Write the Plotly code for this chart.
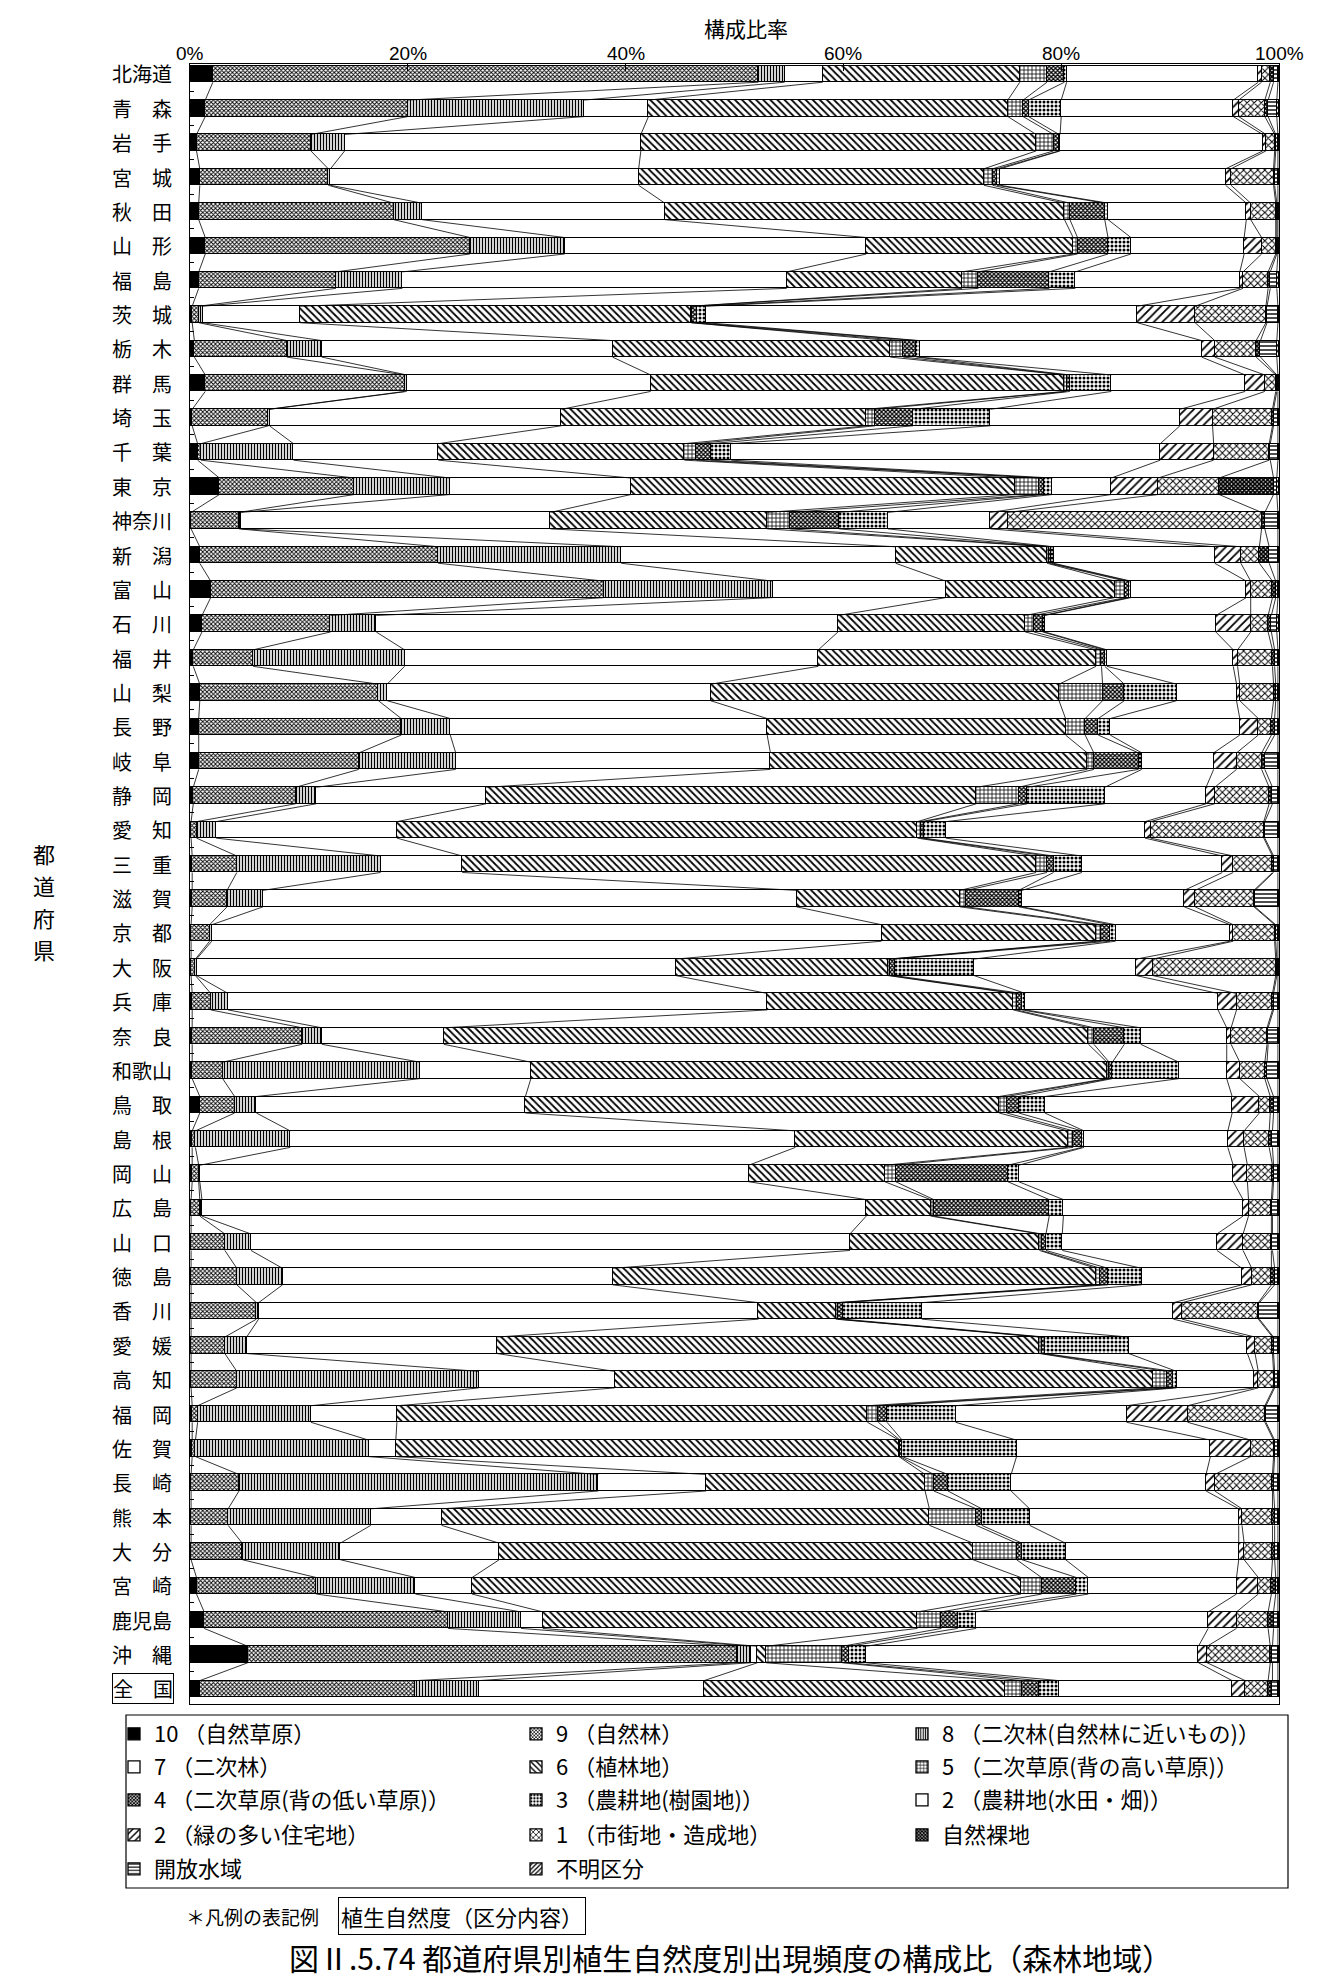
import plotly.graph_objects as go
import numpy as np

prefectures = ["北海道", "青森", "岩手", "宮城", "秋田", "山形", "福島", "茨城", "栃木", "群馬",
               "埼玉", "千葉", "東京", "神奈川", "新潟", "富山", "石川", "福井", "山梨", "長野",
               "岐阜", "静岡", "愛知", "三重", "滋賀", "京都", "大阪", "兵庫", "奈良", "和歌山",
               "鳥取", "島根", "岡山", "広島", "山口", "徳島", "香川", "愛媛", "高知", "福岡",
               "佐賀", "長崎", "熊本", "大分", "宮崎", "鹿児島", "沖縄", "全国"]

series_names = ["10 （自然草原）", "9 （自然林）", "8 （二次林(自然林に近いもの)）",
                "7 （二次林）", "6 （植林地）", "5 （二次草原(背の高い草原)）",
                "4 （二次草原(背の低い草原)）", "3 （農耕地(樹園地)）", "2 （農耕地(水田・畑)）",
                "2 （緑の多い住宅地）", "1 （市街地・造成地）", "自然裸地", "開放水域", "不明区分"]

nat10 = [2.1, 1.4, 0.6, 0.9, 0.8, 1.4, 0.8, 0.2, 0.4, 1.4, 0.2, 0.7, 2.7, 0.1, 0.9, 1.9, 1.1, 0.3, 0.9, 0.8,
         0.8, 0.3, 0.1, 0.2, 0.2, 0.1, 0.1, 0.2, 0.2, 0.2, 0.9, 0.2, 0.2, 0.1, 0.1, 0.1, 0.1, 0.1, 0.1, 0.2,
         0.2, 0.1, 0.1, 0.1, 0.6, 1.3, 5.3, 0.9]
nat9 = [50.1, 18.6, 10.5, 11.8, 17.9, 24.3, 12.6, 0.6, 8.5, 18.3, 7.0, 0.3, 12.4, 4.4, 21.9, 36.1, 11.8, 5.5, 16.4, 18.6,
        14.7, 9.4, 0.5, 4.1, 3.2, 1.7, 0.4, 1.7, 10.1, 2.8, 3.2, 0.3, 0.6, 0.8, 3.1, 4.2, 6.0, 3.1, 4.2, 0.5,
        0.3, 4.4, 3.4, 4.7, 11.0, 22.4, 44.9, 19.8]
nat8 = [2.4, 16.2, 3.1, 0.2, 2.6, 8.7, 6.1, 0.4, 3.2, 0.2, 0.1, 8.5, 8.8, 0.2, 16.8, 15.5, 4.2, 13.9, 0.8, 4.5,
        8.9, 1.9, 1.8, 13.2, 3.3, 0.2, 0.1, 1.6, 1.8, 18.1, 2.0, 8.7, 0.1, 0.2, 2.4, 4.2, 0.2, 2.0, 22.2, 10.4,
        15.9, 33.0, 13.1, 9.0, 9.1, 6.7, 1.3, 5.8]
nat7 = [3.5, 5.9, 27.2, 28.3, 22.3, 27.7, 35.3, 8.9, 26.7, 22.4, 26.8, 13.3, 16.6, 28.4, 25.2, 15.9, 42.4, 38.0, 29.7, 29.1,
        28.9, 15.6, 16.6, 7.5, 49.0, 61.5, 44.0, 49.5, 11.2, 10.2, 24.7, 46.4, 50.4, 61.0, 55.0, 30.3, 45.9, 23.0, 12.5, 7.9,
        2.5, 9.9, 6.5, 14.6, 5.2, 2.0, 0.6, 20.7]
nat6 = [18.1, 33.0, 36.3, 31.7, 36.7, 19.0, 16.1, 35.9, 25.5, 38.0, 28.0, 22.6, 35.3, 19.9, 13.9, 15.5, 17.2, 25.5, 32.0, 27.4,
        29.1, 45.0, 47.8, 52.7, 15.0, 19.7, 19.5, 22.6, 59.2, 52.9, 43.5, 25.0, 12.5, 5.9, 17.4, 44.4, 7.1, 49.8, 49.4, 43.2,
        46.2, 20.1, 44.8, 43.5, 50.4, 34.4, 0.8, 27.6]
nat5 = [2.5, 1.4, 1.6, 0.8, 0.5, 0.4, 1.5, 0.1, 1.2, 0.2, 0.8, 1.1, 2.2, 2.1, 0.2, 1.0, 0.8, 0.5, 4.0, 1.8,
        0.6, 3.9, 0.3, 1.0, 0.6, 0.5, 0.2, 0.3, 0.5, 0.2, 0.7, 0.5, 1.0, 0.3, 0.2, 0.4, 0.2, 0.2, 1.3, 1.0,
        0.1, 0.8, 4.3, 4.0, 1.9, 2.2, 7.0, 1.6]
nat4 = [1.6, 0.5, 0.5, 0.4, 3.2, 2.8, 6.5, 0.5, 1.2, 0.3, 3.5, 1.3, 0.4, 4.5, 0.2, 0.3, 0.8, 0.3, 2.0, 1.2,
        4.1, 0.8, 0.3, 0.6, 4.8, 0.8, 0.4, 0.5, 2.8, 0.3, 1.1, 0.8, 10.3, 10.6, 0.4, 0.7, 0.5, 0.3, 0.6, 0.8,
        0.2, 1.3, 0.5, 0.5, 3.2, 1.5, 0.6, 1.6]
nat3 = [0.2, 3.0, 0.1, 0.3, 0.3, 2.1, 2.4, 0.8, 0.3, 3.8, 7.1, 1.9, 0.8, 4.5, 0.2, 0.2, 0.2, 0.2, 4.8, 1.1,
        0.3, 7.1, 2.0, 2.6, 0.3, 0.5, 7.3, 0.3, 1.5, 6.1, 2.4, 0.2, 1.0, 1.3, 1.5, 3.1, 7.2, 7.7, 0.3, 6.3,
        10.5, 5.8, 4.4, 4.0, 1.1, 1.7, 1.6, 1.8]
nat2_field = [17.6, 15.8, 18.6, 20.7, 12.7, 10.4, 15.1, 39.6, 25.9, 12.3, 17.4, 39.4, 5.4, 9.4, 14.8, 10.6, 15.7, 11.6, 5.5, 11.9,
              6.6, 9.3, 18.3, 12.9, 14.9, 10.5, 14.9, 17.7, 7.9, 4.4, 17.2, 13.2, 19.7, 16.5, 14.2, 9.2, 23.1, 10.9, 7.1, 15.7,
              17.8, 17.9, 19.2, 15.9, 13.6, 21.3, 30.5, 15.9]
nat2_resid = [0.3, 0.5, 0.3, 0.5, 0.4, 1.6, 0.3, 5.3, 1.2, 1.8, 3.0, 4.9, 4.3, 1.6, 2.4, 0.4, 3.2, 0.4, 0.3, 1.7,
              2.1, 0.8, 0.5, 1.0, 1.0, 0.3, 1.5, 1.7, 0.4, 1.2, 2.5, 1.5, 1.3, 0.5, 2.4, 0.9, 0.8, 0.7, 0.4, 5.6,
              3.7, 0.8, 0.3, 0.5, 2.0, 2.6, 0.8, 1.2]
nat1 = [0.8, 2.4, 0.8, 3.9, 2.3, 1.3, 2.3, 6.5, 3.8, 1.0, 5.5, 5.1, 5.6, 23.3, 1.7, 2.0, 1.6, 3.2, 3.1, 1.2,
        2.3, 5.0, 10.4, 3.6, 5.4, 3.8, 11.3, 3.3, 3.3, 2.3, 1.0, 2.3, 2.3, 2.1, 2.6, 1.8, 7.0, 1.6, 1.4, 7.1,
        2.1, 5.3, 2.8, 2.6, 1.2, 2.9, 5.8, 2.1]
bare = [0.3, 0.3, 0.1, 0.1, 0.1, 0.1, 0.2, 0.1, 0.4, 0.1, 0.1, 0.1, 5.0, 0.3, 0.9, 0.3, 0.3, 0.2, 0.2, 0.3,
        0.3, 0.3, 0.1, 0.1, 0.1, 0.1, 0.1, 0.1, 0.1, 0.2, 0.3, 0.3, 0.1, 0.1, 0.1, 0.3, 0.1, 0.1, 0.1, 0.1,
        0.1, 0.1, 0.2, 0.2, 0.4, 0.5, 0.2, 0.4]
water = [0.4, 0.8, 0.2, 0.3, 0.1, 0.1, 0.6, 1.0, 1.5, 0.1, 0.4, 0.7, 0.3, 1.2, 0.8, 0.2, 0.5, 0.3, 0.2, 0.3,
         1.2, 0.5, 1.2, 0.4, 2.1, 0.2, 0.1, 0.4, 0.9, 1.0, 0.4, 0.5, 0.4, 0.5, 0.5, 0.3, 1.7, 0.4, 0.3, 1.1,
         0.3, 0.4, 0.3, 0.3, 0.2, 0.4, 0.5, 0.5]
unknown = [0.1, 0.2, 0.1, 0.1, 0.1, 0.1, 0.2, 0.1, 0.2, 0.1, 0.1, 0.1, 0.2, 0.1, 0.1, 0.1, 0.2, 0.1, 0.1, 0.1,
           0.1, 0.1, 0.1, 0.1, 0.1, 0.1, 0.1, 0.1, 0.1, 0.1, 0.1, 0.1, 0.1, 0.1, 0.1, 0.1, 0.1, 0.1, 0.1, 0.1,
           0.1, 0.1, 0.1, 0.1, 0.1, 0.1, 0.1, 0.1]

series_values = [nat10, nat9, nat8, nat7, nat6, nat5, nat4, nat3, nat2_field, nat2_resid, nat1, bare, water, unknown]
for s in series_values:
    assert len(s) == len(prefectures)

tick_vals = [0, 20, 40, 60, 80, 100]
tick_text = ["0%", "20%", "40%", "60%", "80%", "100%"]

styles = [
    ("solid", "black"),
    ("x", 3, 0.5),
    ("|", 3, 0.45),
    ("solid", "white"),
    ("\\", 5, 0.35),
    ("+", 4, 0.35),
    ("x", 3, 0.65),
    (".", 4, 0.45),
    ("solid", "white"),
    ("/", 6, 0.3),
    ("x", 5, 0.35),
    ("x", 3, 0.8),
    ("-", 4, 0.35),
    ("/", 4, 0.4),
]

FONT = "Noto Sans CJK JP"
NARROW = "Liberation Sans Narrow, Liberation Sans, Arial Narrow, sans-serif"

# plot area in px
X0, X1, Y0, Y1 = 182, 1271, 56, 1696
W, H = X1 - X0, Y1 - Y0
def px2x(px):
    return (px - X0) / W
def py2y(py):
    return (Y1 - py) / H

ypos = list(range(len(prefectures)))
BW = 0.48
legend_ids = ["legend"] + ["legend%d" % k for k in range(2, len(series_names) + 1)]

fig = go.Figure()
for name, vals, st, lg in zip(series_names, series_values, styles, legend_ids):
    if st[0] == "solid":
        marker = dict(color=st[1], line=dict(color="black", width=1.3))
    else:
        marker = dict(color="white", line=dict(color="black", width=1.3),
                      pattern=dict(shape=st[0], size=st[1], solidity=st[2],
                                   fgcolor="black", bgcolor="white", fillmode="replace"))
    fig.add_trace(go.Bar(x=vals, y=ypos, orientation="h", name=name, width=BW,
                         marker=marker, legend=lg, hoverinfo="skip"))

# series connector lines between consecutive bars
cum = np.cumsum(np.array(series_values), axis=0)
lx, ly = [], []
for k in range(cum.shape[0] - 1):
    for i in range(len(prefectures) - 1):
        lx += [cum[k, i], cum[k, i + 1], None]
        ly += [i + BW / 2, i + 1 - BW / 2, None]
fig.add_trace(go.Scatter(x=lx, y=ly, mode="lines", line=dict(color="black", width=0.8),
                         showlegend=False, hoverinfo="skip"))

annotations = []
for i, p in enumerate(prefectures):
    txt = p if len(p) == 3 else p[0] + "\u3000" + p[1]
    ann = dict(x=px2x(166), y=i, xref="paper", yref="y", text=txt, showarrow=False,
               xanchor="right", yanchor="middle", font=dict(family=FONT, size=20, color="black"))
    if p == "全国":
        ann.update(bordercolor="black", borderwidth=1, borderpad=0)
    annotations.append(ann)

# top tick labels
for tv, tt in zip(tick_vals, tick_text):
    annotations.append(dict(x=tv, y=py2y(46), xref="x", yref="paper", text=tt, showarrow=False,
                            xanchor="center", yanchor="middle",
                            font=dict(family=NARROW, size=19, color="black")))

for ch, yc in zip("都道府県", [845, 877, 909, 941]):
    annotations.append(dict(x=px2x(36), y=py2y(yc), xref="paper", yref="paper", text=ch, showarrow=False,
                            xanchor="center", yanchor="middle",
                            font=dict(family=FONT, size=22, color="black")))

annotations += [
    dict(x=px2x(738), y=py2y(20), xref="paper", yref="paper", text="構成比率", showarrow=False,
         xanchor="center", yanchor="middle", font=dict(family=FONT, size=21, color="black")),
    dict(x=px2x(176), y=py2y(1908), xref="paper", yref="paper", text="＊凡例の表記例",
         showarrow=False, xanchor="left", yanchor="middle", font=dict(family=FONT, size=19, color="black")),
    dict(x=px2x(330), y=py2y(1908), xref="paper", yref="paper", text="植生自然度（区分内容）",
         showarrow=False, xanchor="left", yanchor="middle", bordercolor="black", borderwidth=1, borderpad=2,
         font=dict(family=FONT, size=22, color="black")),
    dict(x=px2x(722), y=py2y(1949), xref="paper", yref="paper",
         text="図Ⅱ.5.74 都道府県別植生自然度別出現頻度の構成比（森林地域）",
         showarrow=False, xanchor="center", yanchor="middle", font=dict(family=FONT, size=30, color="black")),
]

legend_row_y = [1726, 1759, 1792, 1827, 1861]
legend_col_x = [106, 508, 894]
legend_layouts = {}
for k, lg in enumerate(legend_ids):
    r, c = divmod(k, 3)
    legend_layouts[lg] = dict(orientation="v", x=px2x(legend_col_x[c]), xanchor="left",
                              y=py2y(legend_row_y[r]), yanchor="middle", itemwidth=30,
                              bgcolor="rgba(0,0,0,0)", borderwidth=0,
                              font=dict(family=FONT, size=22, color="black"),
                              itemclick=False, itemdoubleclick=False)

fig.update_layout(
    width=1330, height=1984,
    margin=dict(l=X0, r=1330 - X1, t=Y0, b=1984 - Y1, autoexpand=False),
    paper_bgcolor="white", plot_bgcolor="white",
    barmode="stack", bargap=0,
    showlegend=True,
    annotations=annotations,
    shapes=[dict(type="rect", xref="paper", yref="paper", x0=px2x(118), x1=px2x(1280),
                 y0=py2y(1880), y1=py2y(1707), line=dict(color="black", width=1.2))],
    xaxis=dict(range=[0, 100], side="top", tickvals=tick_vals, showticklabels=False,
               ticks="inside", ticklen=7, tickcolor="black", showgrid=False, zeroline=False,
               showline=True, mirror=True, linecolor="black", linewidth=1.2),
    yaxis=dict(range=[47.44, -0.29], tickvals=[i + 0.5 for i in range(47)],
               ticktext=[""] * 47, ticks="inside", ticklen=4, tickcolor="black",
               showgrid=False, zeroline=False, showline=True, mirror=True,
               linecolor="black", linewidth=1.2),
    **legend_layouts,
)

fig.write_html("out.html")
